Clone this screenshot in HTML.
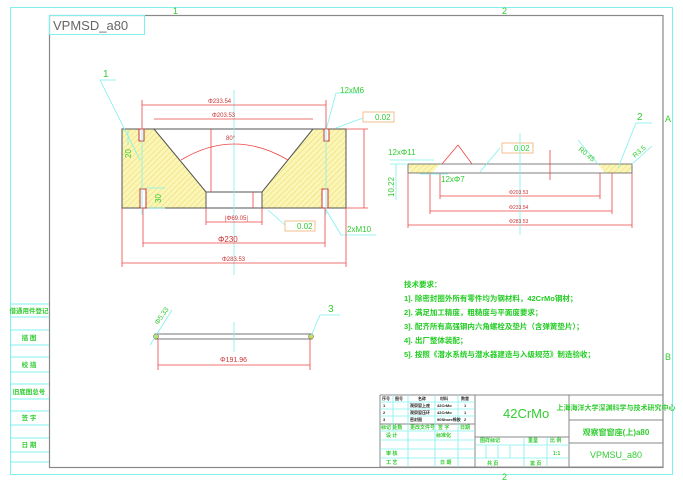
<!DOCTYPE html>
<html><head><meta charset="utf-8"><style>
html,body{margin:0;padding:0;background:#fff;width:683px;height:482px;overflow:hidden}
svg{display:block}
text{font-family:"Liberation Sans","Noto Sans CJK SC",sans-serif}
</style></head><body>
<svg width="683" height="482" viewBox="0 0 683 482" xmlns="http://www.w3.org/2000/svg">
<defs>
<pattern id="h" width="4" height="4" patternUnits="userSpaceOnUse" patternTransform="rotate(45)">
<rect width="4" height="4" fill="#fbf6b8"/><line x1="0" y1="0" x2="0" y2="4" stroke="#e6d24a" stroke-width="0.8"/>
</pattern>
</defs>
<rect x="10.5" y="7.5" width="662" height="467" fill="none" stroke="#7ff0ee" stroke-width="1"/>
<rect x="49.5" y="15.5" width="613.5" height="452" fill="none" stroke="#888" stroke-width="1.2"/>
<rect x="49.5" y="15.5" width="95" height="19" fill="none" stroke="#7ff0ee" stroke-width="1"/>
<text x="53" y="30" font-size="13" fill="#666">VPMSD_a80</text>
<text x="173" y="14" font-size="9" fill="#3c3">1</text>
<text x="502" y="14" font-size="9" fill="#3c3">2</text>
<text x="502" y="480" font-size="9" fill="#3c3">2</text>
<text x="665" y="122" font-size="9" fill="#3c3">A</text>
<text x="665" y="360" font-size="9" fill="#3c3">B</text>

<g stroke="#7ff0ee" stroke-width="1" fill="none">
<line x1="10" y1="304" x2="49" y2="304"/><line x1="10" y1="317" x2="49" y2="317"/>
<line x1="10" y1="330" x2="49" y2="330"/><line x1="10" y1="345" x2="49" y2="345"/>
<line x1="10" y1="357" x2="49" y2="357"/><line x1="10" y1="372" x2="49" y2="372"/>
<line x1="10" y1="384" x2="49" y2="384"/><line x1="10" y1="399" x2="49" y2="399"/>
<line x1="10" y1="411" x2="49" y2="411"/><line x1="10" y1="425" x2="49" y2="425"/>
<line x1="10" y1="438" x2="49" y2="438"/><line x1="10" y1="452" x2="49" y2="452"/>
<line x1="10" y1="462" x2="49" y2="462"/>
</g>
<g font-size="6.5" fill="#3c3" font-weight="bold" text-anchor="middle">
<text x="29" y="313">借通用件登记</text>
<text x="29" y="340">描 图</text>
<text x="29" y="367">校 描</text>
<text x="29" y="394">旧底图总号</text>
<text x="29" y="420">签 字</text>
<text x="29" y="447">日 期</text>
</g>

<polygon points="122,129 154,129 206,192 206,208 122,208" fill="url(#h)"/>
<polygon points="313,129 346,129 346,208 262,208 262,192" fill="url(#h)"/>
<g stroke="#555" stroke-width="1" fill="none">
<rect x="122" y="129" width="224" height="79"/>
<polyline points="154,129 206,192 262,192 313,129"/>
<line x1="206" y1="192" x2="206" y2="208"/><line x1="262" y1="192" x2="262" y2="208"/>
</g>
<g stroke="#c33" stroke-width="1" fill="#fff">
<rect x="139" y="129" width="5" height="12"/><rect x="324" y="129" width="5" height="12"/>
<rect x="140" y="189" width="6" height="19"/><rect x="322" y="189" width="6" height="19"/>
</g>
<g stroke="#7ff0ee" stroke-width="0.8" fill="none">
<line x1="234" y1="90" x2="234" y2="275"/>
<line x1="142" y1="120" x2="142" y2="215"/><line x1="326" y1="120" x2="326" y2="215"/>
<line x1="100" y1="80" x2="116" y2="80"/><line x1="100" y1="80" x2="140" y2="160"/>
<line x1="326" y1="130" x2="336" y2="93"/><line x1="336" y1="93" x2="362" y2="93"/>
<line x1="325" y1="208" x2="341" y2="235"/><line x1="341" y1="235" x2="376" y2="235"/>
<line x1="336" y1="128" x2="363" y2="118"/>
<line x1="268" y1="210" x2="285" y2="225"/>
<line x1="128" y1="130" x2="128" y2="145"/>
<line x1="147" y1="188" x2="165" y2="188"/><line x1="147" y1="208" x2="165" y2="208"/>
</g>
<g stroke="#e44" stroke-width="0.8" fill="none">
<line x1="142" y1="105" x2="326" y2="105"/><line x1="142" y1="100" x2="142" y2="129"/><line x1="326" y1="100" x2="326" y2="129"/>
<line x1="154" y1="119" x2="313" y2="119"/>
<line x1="206" y1="222" x2="262" y2="222"/><line x1="206" y1="208" x2="206" y2="225"/><line x1="262" y1="208" x2="262" y2="225"/>
<line x1="143" y1="243" x2="325" y2="243"/><line x1="143" y1="208" x2="143" y2="247"/><line x1="325" y1="208" x2="325" y2="247"/>
<line x1="122" y1="263" x2="346" y2="263"/><line x1="122" y1="208" x2="122" y2="267"/><line x1="346" y1="208" x2="346" y2="267"/>
<line x1="364" y1="129" x2="364" y2="208"/><line x1="346" y1="129" x2="368" y2="129"/><line x1="346" y1="208" x2="368" y2="208"/>
<line x1="211" y1="129" x2="211" y2="192"/>
<line x1="253" y1="192" x2="253" y2="208"/>
<path d="M181,160 Q234,128 288,160"/>
</g>
<g font-size="6" fill="#c33">
<text x="208" y="103">Φ233.54</text><text x="212" y="117">Φ203.53</text>
<text x="225" y="220">|Φ69.05|</text><text x="222" y="261">Φ283.53</text>
<text x="226" y="140">80°</text>
</g>
<text x="218" y="242" font-size="8" fill="#c33">Φ230</text>
<text x="340" y="93" font-size="8" fill="#3c3">12xM6</text>
<text x="347" y="232" font-size="8" fill="#3c3">2xM10</text>
<text x="103" y="77" font-size="10" fill="#3c3">1</text>
<text x="131" y="158" font-size="8" fill="#3c3" transform="rotate(-90 131 158)">20</text>
<text x="161" y="203" font-size="8" fill="#3c3" transform="rotate(-90 161 203)">30</text>
<g stroke="#f0b070" stroke-width="0.8" fill="#fff">
<rect x="363" y="112" width="31" height="10"/><rect x="285" y="221" width="30" height="10"/>
<rect x="502" y="143" width="31" height="10"/>
</g>
<g font-size="8" fill="#3c3"><text x="375" y="120">0.02</text><text x="297" y="229">0.02</text><text x="514" y="151">0.02</text></g>

<polygon points="408,164 440,164 432,173 410,173" fill="url(#h)"/>
<polygon points="598,164 630,164 632,168 630,173 605,173" fill="url(#h)"/>
<g stroke="#555" stroke-width="0.8" fill="none">
<line x1="408" y1="164" x2="632" y2="164"/><line x1="408" y1="173" x2="632" y2="173"/>
<line x1="408" y1="164" x2="408" y2="173"/><line x1="632" y1="164" x2="632" y2="173"/>
</g>
<g stroke="#e44" stroke-width="0.8" fill="none">
<line x1="408" y1="173" x2="408" y2="228"/><line x1="632" y1="173" x2="632" y2="228"/>
<line x1="408" y1="225" x2="632" y2="225"/>
<line x1="430" y1="173" x2="430" y2="214"/><line x1="612" y1="173" x2="612" y2="214"/>
<line x1="430" y1="211" x2="612" y2="211"/>
<line x1="440" y1="173" x2="440" y2="199"/><line x1="600" y1="173" x2="600" y2="199"/>
<line x1="440" y1="196" x2="600" y2="196"/>
<line x1="442" y1="164" x2="458" y2="145"/><line x1="458" y1="145" x2="472" y2="164"/>
<line x1="550" y1="150" x2="550" y2="180"/>
</g>
<g stroke="#7ff0ee" stroke-width="0.8" fill="none">
<line x1="520" y1="133" x2="520" y2="235"/>
<line x1="390" y1="160" x2="434" y2="160"/><line x1="396" y1="164" x2="396" y2="200"/><line x1="390" y1="164" x2="408" y2="164"/>
<line x1="420" y1="174" x2="448" y2="174"/>
<line x1="480" y1="172" x2="500" y2="148"/>
<line x1="636" y1="123" x2="652" y2="123"/><line x1="636" y1="123" x2="618" y2="168"/>
<line x1="578" y1="140" x2="598" y2="164"/><line x1="632" y1="164" x2="652" y2="146"/>
</g>
<g font-size="8" fill="#3c3">
<text x="388" y="155">12xΦ11</text><text x="441" y="182">12xΦ7</text>
<text x="394" y="197" transform="rotate(-90 394 197)">10.22</text>
<text x="637" y="120" font-size="10">2</text>
<text x="578" y="150" font-size="7" transform="rotate(40 578 150)">R0.45</text>
<text x="635" y="158" font-size="7" transform="rotate(-40 635 158)">R3.5</text>
</g>
<g font-size="5" fill="#c33"><text x="509" y="194">Φ203.53</text><text x="509" y="209">Φ233.54</text><text x="509" y="223">Φ283.53</text></g>

<rect x="155" y="334" width="157" height="5" fill="#fff" stroke="#555" stroke-width="0.8"/>
<circle cx="156" cy="336.5" r="2.5" fill="#cde055" stroke="#555" stroke-width="0.5"/>
<circle cx="311" cy="336.5" r="2.5" fill="#cde055" stroke="#555" stroke-width="0.5"/>
<g stroke="#7ff0ee" stroke-width="0.8" fill="none">
<line x1="234" y1="322" x2="234" y2="352"/>
<line x1="150" y1="345" x2="172" y2="310"/>
<line x1="320" y1="315" x2="340" y2="315"/><line x1="320" y1="315" x2="311" y2="336"/>
</g>
<g stroke="#e44" stroke-width="0.8"><line x1="158" y1="339" x2="158" y2="370"/><line x1="310" y1="339" x2="310" y2="370"/><line x1="158" y1="365" x2="310" y2="365"/></g>
<text x="220" y="362" font-size="7" fill="#c33">Φ191.96</text>
<text x="158" y="325" font-size="7" fill="#3c3" transform="rotate(-55 158 325)">Φ5.33</text>
<text x="328" y="312" font-size="10" fill="#3c3">3</text>

<g font-size="7.5" fill="#2c2" font-weight="bold">
<text x="404" y="287">技术要求：</text>
<text x="404" y="301">1]. 除密封圈外所有零件均为钢材料，42CrMo钢材；</text>
<text x="404" y="315">2]. 满足加工精度，粗糙度与平面度要求；</text>
<text x="404" y="329">3]. 配齐所有高强钢内六角螺栓及垫片（含弹簧垫片）；</text>
<text x="404" y="343">4]. 出厂整体装配；</text>
<text x="404" y="357">5]. 按照《潜水系统与潜水器建造与入级规范》制造验收；</text>
</g>

<g stroke="#888" stroke-width="1" fill="none">
<line x1="380" y1="395" x2="663" y2="395"/><line x1="380" y1="395" x2="380" y2="467"/>
<line x1="475" y1="395" x2="475" y2="467"/><line x1="569" y1="395" x2="569" y2="467"/>
<line x1="569" y1="420" x2="663" y2="420"/><line x1="569" y1="443" x2="663" y2="443"/>
<line x1="380" y1="424" x2="475" y2="424"/>
<line x1="475" y1="437" x2="569" y2="437"/>
<line x1="380" y1="467" x2="663" y2="467"/>
</g>
<g stroke="#7ff0ee" stroke-width="0.8" fill="none">
<line x1="380" y1="402" x2="475" y2="402"/><line x1="380" y1="409" x2="475" y2="409"/><line x1="380" y1="416" x2="475" y2="416"/>
<line x1="380" y1="431" x2="475" y2="431"/><line x1="380" y1="440" x2="475" y2="440"/><line x1="380" y1="449" x2="475" y2="449"/><line x1="380" y1="458" x2="475" y2="458"/>
<line x1="475" y1="445" x2="569" y2="445"/><line x1="475" y1="458" x2="569" y2="458"/>
<line x1="393" y1="395" x2="393" y2="431"/><line x1="408" y1="395" x2="408" y2="467"/><line x1="435" y1="395" x2="435" y2="467"/><line x1="458" y1="395" x2="458" y2="467"/>
<line x1="486" y1="445" x2="486" y2="458"/><line x1="498" y1="445" x2="498" y2="458"/><line x1="510" y1="445" x2="510" y2="458"/>
<line x1="524" y1="437" x2="524" y2="467"/><line x1="547" y1="437" x2="547" y2="467"/>
</g>
<g font-size="4" fill="#222" font-weight="bold">
<text x="382" y="400">序号</text><text x="395" y="400">图号</text><text x="418" y="400">名称</text><text x="440" y="400">材料</text><text x="461" y="400">数量</text>
<text x="383" y="407">1</text><text x="410" y="407">观察窗上座</text><text x="437" y="407">42CrMo</text><text x="464" y="407">1</text>
<text x="383" y="414">2</text><text x="410" y="414">观察窗压环</text><text x="437" y="414">42CrMo</text><text x="464" y="414">1</text>
<text x="383" y="421">3</text><text x="410" y="421">密封圈</text><text x="437" y="421">90Shore橡胶</text><text x="464" y="421">2</text>
</g>
<g font-size="5" fill="#3c3" font-weight="bold">
<text x="381" y="429">标记 处数</text><text x="410" y="429">更改文件号</text><text x="438" y="429">签 字</text><text x="460" y="429">日期</text>
<text x="386" y="437">设 计</text><text x="436" y="437">标准化</text>
<text x="386" y="455">审 核</text><text x="386" y="464">工 艺</text><text x="440" y="464">日 期</text>
<text x="480" y="442">图样标记</text><text x="528" y="442">重量</text><text x="550" y="442">比 例</text>
<text x="553" y="455">1:1</text>
<text x="487" y="465">共 页</text><text x="530" y="465">第 页</text>
</g>
<text x="503" y="418" font-size="13" fill="#3c3">42CrMo</text>
<text x="616" y="410" font-size="7" fill="#3c3" text-anchor="middle" font-weight="bold">上海海洋大学深渊科学与技术研究中心</text>
<text x="616" y="435" font-size="8" fill="#3c3" text-anchor="middle" font-weight="bold">观察窗窗座(上)a80</text>
<text x="616" y="458" font-size="9" fill="#3c3" text-anchor="middle">VPMSU_a80</text>
</svg>
</body></html>
